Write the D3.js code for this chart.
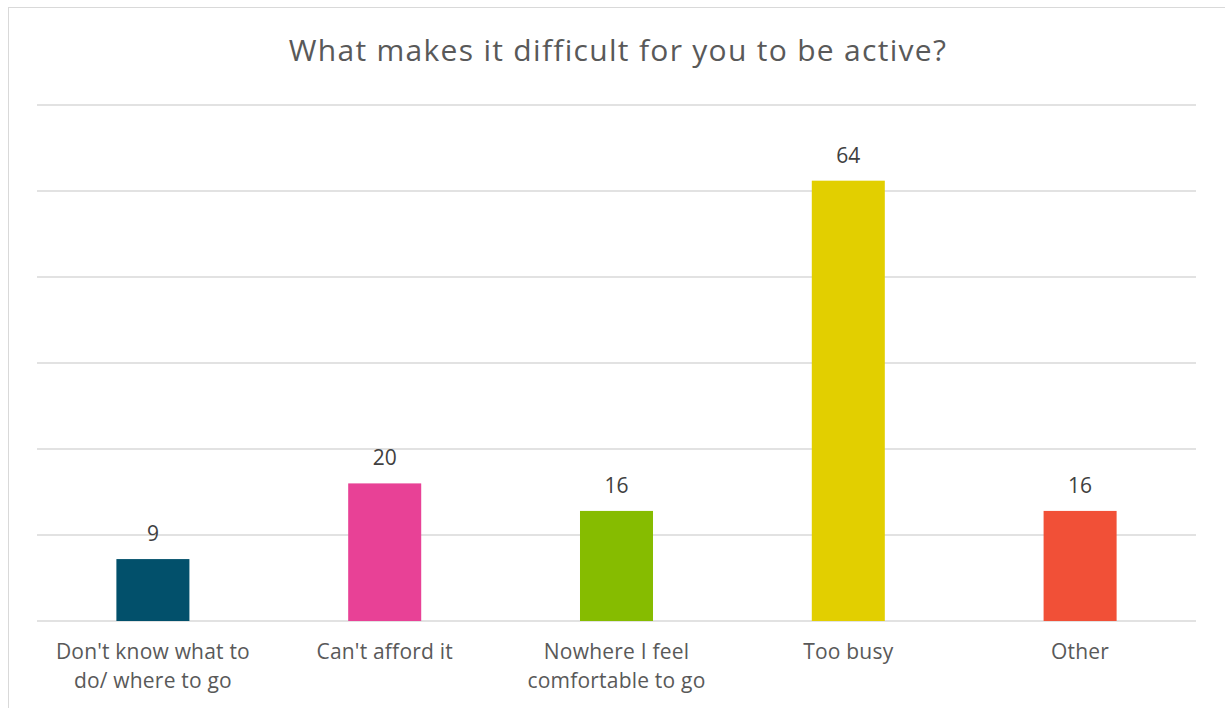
<!DOCTYPE html>
<html><head><meta charset="utf-8">
<script src="https://cdn.jsdelivr.net/npm/d3@7"></script>
<style>body{margin:0;background:#fff}svg{display:block}</style>
</head><body>
<script>
const categories = [["Don't know what to","do/ where to go"],["Can't afford it"],["Nowhere I feel","comfortable to go"],["Too busy"],["Other"]];
const values = [9, 20, 16, 64, 16];
const colors = ["#02506B", "#E84196", "#86BC00", "#E2CF00", "#F15037"];
const yTicks = [0, 12.5, 25, 37.5, 50, 62.5, 75];
const title = "What makes it difficult for you to be active?";

const W = 1225, H = 708;
const svg = d3.select("body").append("svg").attr("width", W).attr("height", H);
svg.append("rect").attr("x", 8.5).attr("y", 7.5).attr("width", 1230).attr("height", 720)
  .attr("fill", "#fff").attr("stroke", "#d9d9d9");

const font = "'Open Sans', sans-serif";
svg.append("text").attr("x", 618).attr("y", 61).attr("text-anchor", "middle")
  .attr("font-family", font).attr("font-size", 30).attr("letter-spacing", 1.3)
  .attr("fill", "#595959").text(title);

const x = d3.scaleBand().domain(d3.range(values.length)).range([37, 1196]).paddingInner(0.685).paddingOuter(0.3425);
const y = d3.scaleLinear().domain([0, 75]).range([621, 105]);

svg.append("g").selectAll("line").data(yTicks).join("line")
  .attr("x1", 37).attr("x2", 1196).attr("y1", d => y(d)).attr("y2", d => y(d))
  .attr("stroke", "#d9d9d9").attr("stroke-width", 1.5);

svg.append("g").selectAll("rect").data(values).join("rect")
  .attr("x", (d, i) => x(i)).attr("width", x.bandwidth())
  .attr("y", d => y(d)).attr("height", d => y(0) - y(d))
  .attr("fill", (d, i) => colors[i]);

svg.append("g").selectAll("text").data(values).join("text")
  .attr("x", (d, i) => x(i) + x.bandwidth() / 2).attr("y", d => y(d) - 18)
  .attr("text-anchor", "middle").attr("font-family", font).attr("font-size", 21)
  .attr("fill", "#404040").text(d => d);

const lab = svg.append("g").selectAll("text").data(categories).join("text")
  .attr("text-anchor", "middle").attr("font-family", font).attr("font-size", 21)
  .attr("letter-spacing", 0.2).attr("fill", "#595959");
lab.each(function(d, i) {
  d3.select(this).selectAll("tspan").data(d).join("tspan")
    .attr("x", x(i) + x.bandwidth() / 2).attr("y", (t, j) => 659 + j * 29).text(t => t);
});
</script>
</body></html>
